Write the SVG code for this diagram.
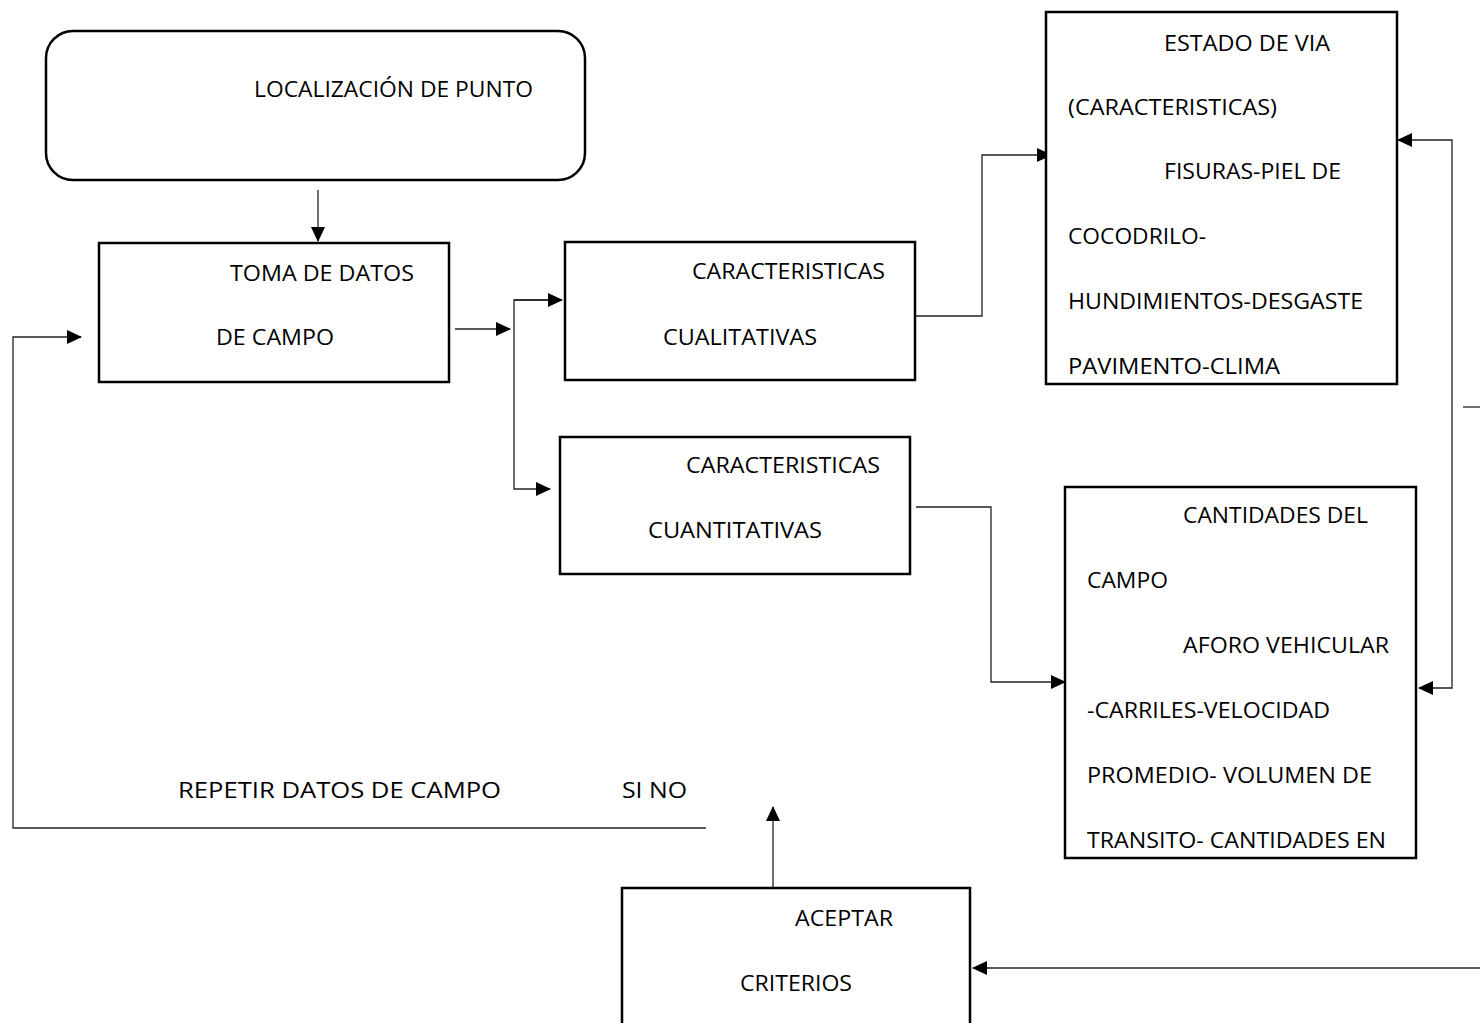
<svg xmlns="http://www.w3.org/2000/svg" width="1480" height="1023" viewBox="0 0 1480 1023">
<style>
.box{fill:#fff;stroke:#000;stroke-width:2.5}
.ln{fill:none;stroke:#222;stroke-width:1.3}
text{font-family:"Open Sans","Liberation Sans",sans-serif;font-size:21px;fill:#000}
</style>
<defs>
<marker id="ah" markerUnits="userSpaceOnUse" markerWidth="16" markerHeight="14" refX="14" refY="7" orient="auto">
<path d="M0,0 L15,7 L0,14 Z" fill="#000"/>
</marker>
</defs>
<rect width="1480" height="1023" fill="#fff"/>
<g id="connectors">
<path class="ln" d="M318,190 V241" marker-end="url(#ah)"/>
<path class="ln" d="M455,329 H510" marker-end="url(#ah)"/>
<path class="ln" d="M562,300 H514 V489 H550" marker-end="url(#ah)"/>
<path class="ln" d="M514,300 H562" marker-end="url(#ah)"/>
<path class="ln" d="M916,316 H982 V155 H1051" marker-end="url(#ah)"/>
<path class="ln" d="M916,507 H991 V682 H1065" marker-end="url(#ah)"/>
<path class="ln" d="M1452,400 V140 H1398" marker-end="url(#ah)"/>
<path class="ln" d="M1452,400 V688 H1419" marker-end="url(#ah)"/>
<path class="ln" d="M1463,407 H1480"/>
<path class="ln" d="M1480,968 H973" marker-end="url(#ah)"/>
<path class="ln" d="M706,828 H13 V337 H81" marker-end="url(#ah)"/>
<path class="ln" d="M773,888 V807" marker-end="url(#ah)"/>
</g>
<g id="n-localizacion">
<rect class="box" x="46" y="31" width="539" height="149" rx="27"/>
<text x="254" y="97" textLength="279" lengthAdjust="spacingAndGlyphs">LOCALIZACIÓN DE PUNTO</text>
</g>
<g id="n-toma">
<rect class="box" x="99" y="243" width="350" height="139"/>
<text x="230" y="281" textLength="184" lengthAdjust="spacingAndGlyphs">TOMA DE DATOS</text>
<text x="216" y="345" textLength="118" lengthAdjust="spacingAndGlyphs">DE CAMPO</text>
</g>
<g id="n-cualitativas">
<rect class="box" x="565" y="242" width="350" height="138"/>
<text x="692" y="279" textLength="193" lengthAdjust="spacingAndGlyphs">CARACTERISTICAS</text>
<text x="663" y="345" textLength="154" lengthAdjust="spacingAndGlyphs">CUALITATIVAS</text>
</g>
<g id="n-cuantitativas">
<rect class="box" x="560" y="437" width="350" height="137"/>
<text x="686" y="473" textLength="194" lengthAdjust="spacingAndGlyphs">CARACTERISTICAS</text>
<text x="648" y="538" textLength="174" lengthAdjust="spacingAndGlyphs">CUANTITATIVAS</text>
</g>
<g id="n-estado">
<rect class="box" x="1046" y="12" width="351" height="372"/>
<text x="1164" y="51" textLength="166" lengthAdjust="spacingAndGlyphs">ESTADO DE VIA</text>
<text x="1068" y="115" textLength="209" lengthAdjust="spacingAndGlyphs">(CARACTERISTICAS)</text>
<text x="1164" y="179" textLength="177" lengthAdjust="spacingAndGlyphs">FISURAS-PIEL DE</text>
<text x="1068" y="244" textLength="138" lengthAdjust="spacingAndGlyphs">COCODRILO-</text>
<text x="1068" y="309" textLength="295" lengthAdjust="spacingAndGlyphs">HUNDIMIENTOS-DESGASTE</text>
<text x="1068" y="374" textLength="212" lengthAdjust="spacingAndGlyphs">PAVIMENTO-CLIMA</text>
</g>
<g id="n-cantidades">
<rect class="box" x="1065" y="487" width="351" height="371"/>
<text x="1183" y="523" textLength="185" lengthAdjust="spacingAndGlyphs">CANTIDADES DEL</text>
<text x="1087" y="588" textLength="81" lengthAdjust="spacingAndGlyphs">CAMPO</text>
<text x="1183" y="653" textLength="206" lengthAdjust="spacingAndGlyphs">AFORO VEHICULAR</text>
<text x="1087" y="718" textLength="243" lengthAdjust="spacingAndGlyphs">-CARRILES-VELOCIDAD</text>
<text x="1087" y="783" textLength="285" lengthAdjust="spacingAndGlyphs">PROMEDIO- VOLUMEN DE</text>
<text x="1087" y="848" textLength="299" lengthAdjust="spacingAndGlyphs">TRANSITO- CANTIDADES EN</text>
</g>
<g id="n-aceptar">
<rect class="box" x="622" y="888" width="348" height="150"/>
<text x="795" y="926" textLength="98" lengthAdjust="spacingAndGlyphs">ACEPTAR</text>
<text x="740" y="991" textLength="112" lengthAdjust="spacingAndGlyphs">CRITERIOS</text>
</g>
<g id="labels">
<text x="178" y="798" textLength="323" lengthAdjust="spacingAndGlyphs">REPETIR DATOS DE CAMPO</text>
<text x="622" y="798" textLength="65" lengthAdjust="spacingAndGlyphs">SI NO</text>
</g>
</svg>
